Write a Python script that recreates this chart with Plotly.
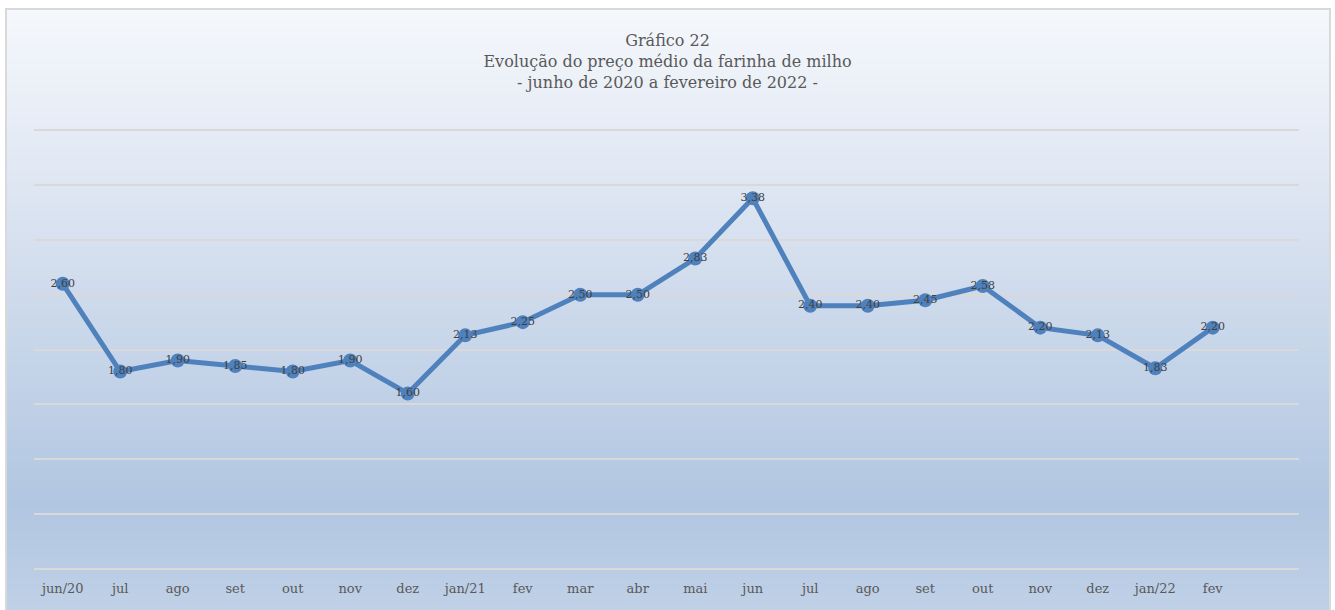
import plotly.graph_objects as go

categories = ["jun/20", "jul", "ago", "set", "out", "nov", "dez", "jan/21", "fev", "mar",
              "abr", "mai", "jun", "jul ", "ago ", "set ", "out ", "nov ", "dez ", "jan/22", "fev "]
prices = [2.60, 1.80, 1.90, 1.85, 1.80, 1.90, 1.60, 2.13, 2.25, 2.50,
          2.50, 2.83, 3.38, 2.40, 2.40, 2.45, 2.58, 2.20, 2.13, 1.83, 2.20]
labels = [f"{v:.2f}".replace(".", ",") for v in prices]

W, H = 1335, 610
YMAX = 4.02
L, R, B = 34, 36, 41
T = round(H - B - YMAX * 109.75)
pw, ph = W - L - R, H - T - B

def px_to_paper_x(px):
    return (px - L) / pw

def px_to_paper_y(py):
    return (H - B - py) / ph

FONT = "DejaVu Serif"

fig = go.Figure()
fig.add_trace(go.Scatter(
    x=list(range(len(prices))), y=prices,
    mode="lines+markers+text",
    line=dict(color="#4f81bd", width=5),
    marker=dict(color="#4f81bd", size=14),
    text=labels, textposition="middle center",
    textfont=dict(family=FONT, size=11, color="#404040"),
    hoverinfo="skip", showlegend=False, cliponaxis=False,
))

# gradient background strips
stops = [(0.0, (245, 248, 252)), (0.25, (226, 233, 244)), (0.5, (204, 217, 235)),
         (0.82, (177, 198, 225)), (1.0, (192, 209, 231))]

def grad(t):
    for (t0, c0), (t1, c1) in zip(stops[:-1], stops[1:]):
        if t0 <= t <= t1:
            f = (t - t0) / (t1 - t0)
            return tuple(round(a + (b - a) * f) for a, b in zip(c0, c1))
    return stops[-1][1]

shapes = []
top, bot = 9, 614
x0p, x1p = 6, 1330
n = 150
step = (bot - top) / n
for i in range(n):
    ya = top + i * step
    yb = ya + step + 2
    c = grad((i + 0.5) / n)
    shapes.append(dict(type="rect", xref="paper", yref="paper", layer="below",
                       x0=px_to_paper_x(x0p), x1=px_to_paper_x(x1p),
                       y0=px_to_paper_y(yb), y1=px_to_paper_y(ya),
                       fillcolor=f"rgb{c}", line=dict(width=0)))
shapes.append(dict(type="rect", xref="paper", yref="paper", layer="below",
                   x0=px_to_paper_x(x0p), x1=px_to_paper_x(x1p),
                   y0=px_to_paper_y(bot), y1=px_to_paper_y(top),
                   fillcolor="rgba(0,0,0,0)", line=dict(color="#d9d9d9", width=2)))

fig.update_layout(
    width=W, height=H,
    margin=dict(l=L, r=R, t=T, b=B),
    paper_bgcolor="white", plot_bgcolor="rgba(0,0,0,0)",
    shapes=shapes,
    title=dict(
        text="Gráfico 22<br>Evolução do preço médio da farinha de milho<br>- junho de 2020 a fevereiro de 2022 -",
        x=0.5, xanchor="center", y=1 - 46 / H, yanchor="top",
        font=dict(family=FONT, size=16, color="#595959"),
    ),
    xaxis=dict(
        range=[-0.5, 21.5],
        tickmode="array", tickvals=list(range(len(categories))),
        ticktext=[c.strip() for c in categories],
        showgrid=False, zeroline=False, showline=False, ticks="",
        tickfont=dict(family=FONT, size=13, color="#595959"),
        ticklabelstandoff=10,
        fixedrange=True,
    ),
    yaxis=dict(
        range=[0, YMAX], dtick=0.5, showticklabels=False,
        showgrid=True, gridcolor="#d9d9d9", gridwidth=2,
        zeroline=True, zerolinecolor="#d9d9d9", zerolinewidth=2,
        showline=False, ticks="", fixedrange=True,
    ),
    font=dict(family=FONT),
)

fig.write_html("out.html", config={"displayModeBar": False},
               post_script="document.body.style.margin='0';")
